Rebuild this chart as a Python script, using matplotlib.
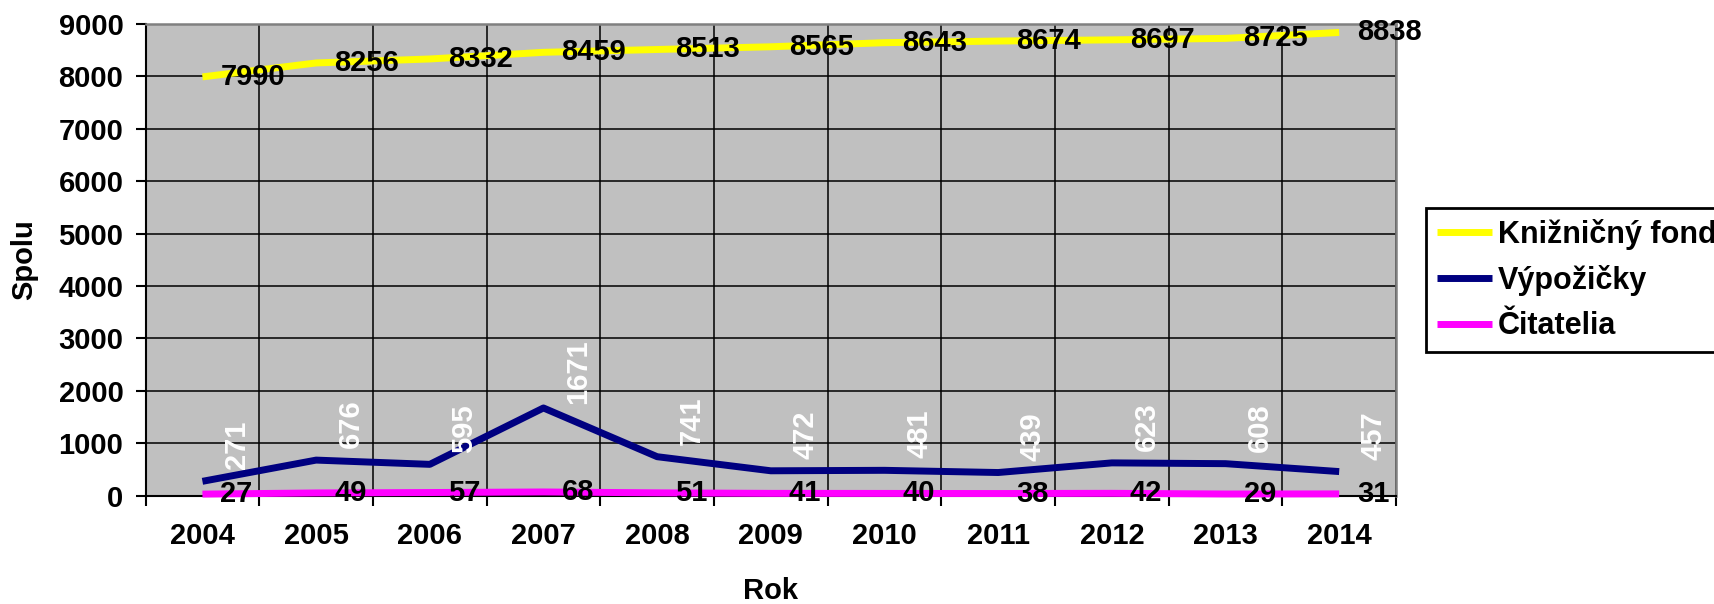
import matplotlib as mpl
mpl.use("Agg")
import matplotlib.pyplot as plt
import numpy as np

plt.rcParams["font.family"] = ["Liberation Sans", "DejaVu Sans"]
plt.rcParams["font.weight"] = "bold"

# ## Data
YEARS = ["2004", "2005", "2006", "2007", "2008", "2009", "2010", "2011", "2012", "2013", "2014"]
FOND = [7990, 8256, 8332, 8459, 8513, 8565, 8643, 8674, 8697, 8725, 8838]
VYPOZICKY = [271, 676, 595, 1671, 741, 472, 481, 439, 623, 608, 457]
CITATELIA = [27, 49, 57, 68, 51, 41, 40, 38, 42, 29, 31]
SERIES_NAMES = ["Knižničný fond", "Výpožičky", "Čitatelia"]

FONT_SIZE = 21
COLORS = ["#FFFF00", "#000080", "#FF00FF"]
PLOT_BG = "#C0C0C0"


def main():
    fig = plt.figure(figsize=(17.15, 6.04), dpi=100)
    ax = fig.add_axes([0.0849, 0.1796, 0.7291, 0.7807])
    ax.set_facecolor(PLOT_BG)
    x = np.arange(len(YEARS))

    lines = []
    for values, color, name in zip([FOND, VYPOZICKY, CITATELIA], COLORS, SERIES_NAMES):
        (ln,) = ax.plot(x, values, color=color, linewidth=5, label=name, clip_on=False,
                        solid_joinstyle="round", solid_capstyle="butt", zorder=3)
        lines.append(ln)

    # data labels: black to the right for fond and citatelia, white rotated for vypozicky
    for xi, v in zip(x, FOND):
        ax.annotate(str(v), (xi, v), xytext=(13, 0), textcoords="offset points",
                    ha="left", va="center", fontsize=FONT_SIZE, fontweight="bold",
                    color="black", zorder=5)
    for xi, v in zip(x, CITATELIA):
        ax.annotate(str(v), (xi, v), xytext=(13, 0), textcoords="offset points",
                    ha="left", va="center", fontsize=FONT_SIZE, fontweight="bold",
                    color="black", zorder=5)
    for xi, v in zip(x, VYPOZICKY):
        ax.annotate(str(v), (xi, v), xytext=(25, 26), textcoords="offset points",
                    ha="center", va="center", rotation=90, fontsize=FONT_SIZE,
                    fontweight="bold", color="white", zorder=5)

    ax.set_xlim(-0.5, len(YEARS) - 0.5)
    ax.set_ylim(0, 9000)
    ax.set_yticks(np.arange(0, 9001, 1000))
    ax.set_xticks(x)
    ax.set_xticklabels(YEARS)
    ax.set_xticks(np.arange(-0.5, len(YEARS), 1), minor=True)
    ax.tick_params(axis="x", which="major", length=0, pad=19, labelsize=FONT_SIZE)
    ax.tick_params(axis="x", which="minor", length=7, width=1.5, direction="out", color="black")
    ax.tick_params(axis="y", which="major", length=7, width=1.5, direction="out", pad=9,
                   labelsize=FONT_SIZE)

    ax.grid(True, which="major", axis="y", color="black", linewidth=1.1, zorder=1)
    ax.grid(True, which="minor", axis="x", color="black", linewidth=1.1, zorder=1)
    ax.set_axisbelow(True)

    for side in ["left", "bottom"]:
        ax.spines[side].set_color("black")
        ax.spines[side].set_linewidth(1.5)
    for side in ["top", "right"]:
        ax.spines[side].set_color("#808080")
        ax.spines[side].set_linewidth(1.8)

    ax.set_xlabel("Rok", fontsize=FONT_SIZE, fontweight="bold", va="center")
    ax.xaxis.set_label_coords(0.5, -0.2025)
    ax.set_ylabel("Spolu", fontsize=FONT_SIZE, fontweight="bold", va="center")
    ax.yaxis.set_label_coords(-0.097, 0.5)

    leg = fig.legend(handles=lines, loc="upper left", bbox_to_anchor=(0.8315, 0.6556),
                     bbox_transform=fig.transFigure, borderaxespad=0, fancybox=False,
                     edgecolor="black", framealpha=1, fontsize=22,
                     handlelength=1.8, handletextpad=0.2, labelspacing=0.5, borderpad=0.35)
    leg.get_frame().set_linewidth(2)
    for t in leg.get_texts():
        t.set_fontweight("bold")

    fig.savefig("out.png", dpi=100)
    plt.close(fig)


if __name__ == "__main__":
    main()
